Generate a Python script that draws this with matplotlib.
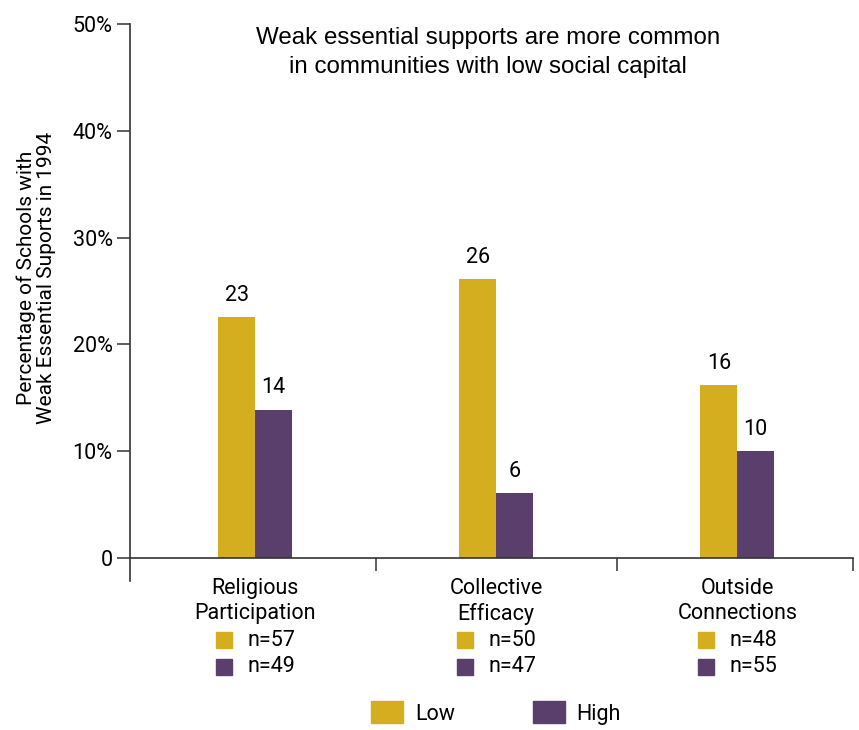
import matplotlib
matplotlib.use("Agg")
import matplotlib.pyplot as plt
import matplotlib.transforms as mtransforms
from matplotlib.patches import Patch
import numpy as np

# chart data
categories = ["Religious\nParticipation", "Collective\nEfficacy", "Outside\nConnections"]
low_values = [22.6, 26.1, 16.2]
high_values = [13.9, 6.1, 10.0]
low_labels = ["23", "26", "16"]
high_labels = ["14", "6", "10"]
low_n = ["n=57", "n=50", "n=48"]
high_n = ["n=49", "n=47", "n=55"]
y_ticks = [0, 10, 20, 30, 40, 50]
y_tick_labels = ["0", "10%", "20%", "30%", "40%", "50%"]

gold = "#D5AE1F"
purple = "#5A3F6C"
axis_col = "#333333"
fs = 15.5

plt.rcParams["font.family"] = ["Roboto", "DejaVu Sans"]

fig = plt.figure(figsize=(8.59, 7.30), dpi=100)
ax = fig.add_axes([130 / 859, 1 - 558 / 730, 723 / 859, 534 / 730])

x = np.arange(len(categories)) + 0.5
w = 0.153
ax.bar(x - w / 2, low_values, w, color=gold)
ax.bar(x + w / 2, high_values, w, color=purple)

for xi, v, s in zip(x - w / 2, low_values, low_labels):
    ax.annotate(s, (xi, v), xytext=(0, 8), textcoords="offset points",
                ha="center", va="bottom", fontsize=fs)
for xi, v, s in zip(x + w / 2, high_values, high_labels):
    ax.annotate(s, (xi, v), xytext=(0, 8), textcoords="offset points",
                ha="center", va="bottom", fontsize=fs)

ax.set_xlim(-0.019, 2.98)
ax.set_ylim(0, 50)
ax.set_yticks(y_ticks)
ax.set_yticklabels(y_tick_labels)
ax.set_xticks([1, 2, 2.98])
ax.set_xticklabels([])

for side in ["top", "right"]:
    ax.spines[side].set_visible(False)
for side in ["left", "bottom"]:
    ax.spines[side].set_color(axis_col)
    ax.spines[side].set_linewidth(1.2)
ax.spines["left"].set_bounds(-2.2, 50)
ax.tick_params(axis="y", length=9.5, width=1.1, color=axis_col, pad=3, labelsize=fs)
ax.tick_params(axis="x", length=9, width=1.1, color=axis_col)

ax.set_ylabel("Percentage of Schools with\nWeak Essential Suports in 1994",
              fontsize=15, linespacing=1.1)
ax.yaxis.set_label_coords(-0.102, 0.524)

# title inside the plot
ax.text(0.495, 0.946, "Weak essential supports are more common\nin communities with low social capital",
        transform=ax.transAxes, ha="center", va="center", fontsize=17.4,
        family=["Liberation Sans", "DejaVu Sans"], linespacing=1.4)

# category labels with group sizes underneath
trans = mtransforms.blended_transform_factory(ax.transData, ax.transAxes)
sq_trans = mtransforms.offset_copy(trans, fig=fig, x=-31, units="dots")
n_trans = mtransforms.offset_copy(trans, fig=fig, x=-8, units="dots")
for xi, cat, ln, hn in zip(x, categories, low_n, high_n):
    ax.text(xi, -0.037, cat, transform=trans, ha="center", va="top",
            fontsize=fs, linespacing=1.25)
    ax.plot([xi], [-0.1536], marker="s", markersize=11.5, color=gold,
            transform=sq_trans, clip_on=False)
    ax.plot([xi], [-0.204], marker="s", markersize=11.5, color=purple,
            transform=sq_trans, clip_on=False)
    ax.text(xi, -0.1536, ln, transform=n_trans, ha="left", va="center", fontsize=fs)
    ax.text(xi, -0.204, hn, transform=n_trans, ha="left", va="center", fontsize=fs)

handles = [Patch(color=gold, label="Low"), Patch(color=purple, label="High")]
fig.legend(handles=handles, loc="center", bbox_to_anchor=(496 / 859, 1 - 713 / 730),
           ncol=2, frameon=False, fontsize=fs, handlelength=1.5, handleheight=1.2,
           handletextpad=0.55, columnspacing=3.6)

fig.savefig("out.png", dpi=100)
